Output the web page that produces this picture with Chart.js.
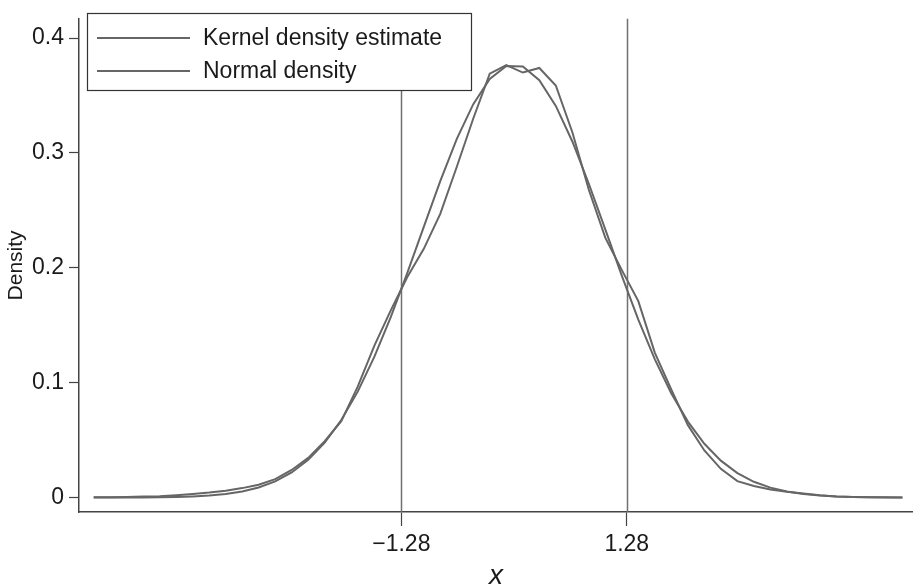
<!DOCTYPE html>
<html>
<head>
<meta charset="utf-8">
<script src="https://cdn.jsdelivr.net/npm/chart.js@4.4.0/dist/chart.umd.min.js"></script>
<style>
  body { margin: 0; background: #fff; }
  #wrap { width: 913px; height: 587px; position: relative; }
</style>
</head>
<body>
<div id="wrap"><canvas id="chart_div"></canvas></div>
<script>
// grid of evaluation points (x) and the two density curves
const xGrid = [
  -4.773, -4.586, -4.399, -4.212, -4.024, -3.836, -3.649, -3.462, -3.274, -3.087,
  -2.900, -2.712, -2.525, -2.337, -2.150, -1.962, -1.775, -1.587, -1.400, -1.212,
  -1.025, -0.838, -0.650, -0.463, -0.276, -0.088, 0.100, 0.287, 0.474, 0.662,
  0.849, 1.037, 1.224, 1.411, 1.599, 1.786, 1.974, 2.161, 2.348, 2.536,
  2.723, 2.911, 3.098, 3.286, 3.473, 3.661, 3.848, 4.036, 4.223, 4.410
];
const kernelDensity = [
  0.0002, 0.0003, 0.0005, 0.0008, 0.0012, 0.0020, 0.0030, 0.0043, 0.0060, 0.0082,
  0.0112, 0.0160, 0.0240, 0.0345, 0.0490, 0.0665, 0.0965, 0.1320, 0.1630, 0.1920,
  0.2165, 0.2470, 0.2880, 0.3300, 0.3690, 0.3765, 0.3700, 0.3740, 0.3587, 0.3180,
  0.2680, 0.2260, 0.1980, 0.1710, 0.1260, 0.0940, 0.0630, 0.0410, 0.0250, 0.0143,
  0.0100, 0.0070, 0.0050, 0.0035, 0.0020, 0.0010, 0.0005, 0.0003, 0.0002, 0.0001
];
const normalDensity = [
  0.0000, 0.0000, 0.0001, 0.0001, 0.0003, 0.0005, 0.0010, 0.0018, 0.0031, 0.0053,
  0.0088, 0.0141, 0.0218, 0.0328, 0.0478, 0.0675, 0.0922, 0.1224, 0.1570, 0.1956,
  0.2357, 0.2755, 0.3122, 0.3425, 0.3644, 0.3757, 0.3753, 0.3634, 0.3410, 0.3100,
  0.2732, 0.2332, 0.1930, 0.1549, 0.1203, 0.0906, 0.0661, 0.0468, 0.0321, 0.0213,
  0.0137, 0.0086, 0.0052, 0.0030, 0.0017, 0.0009, 0.0005, 0.0003, 0.0001, 0.0001
];
const seriesNames = ['Kernel density estimate', 'Normal density'];
const yTicks = [0, 0.1, 0.2, 0.3, 0.4];
const xTicks = [-1.28, 1.28];
const cutoffs = [-1.28, 1.28];

const FONT = '"Liberation Sans", Arial, sans-serif';
const LINE = '#666666';

function points(ys) {
  return xGrid.map((x, i) => ({ x: x, y: ys[i] }));
}

// vertical reference lines at the cutoffs, full height of the plot
const cutoffLines = {
  id: 'cutoffLines',
  beforeDatasetsDraw(chart) {
    const ctx = chart.ctx, area = chart.chartArea, xs = chart.scales.x;
    ctx.save();
    ctx.strokeStyle = '#707070';
    ctx.lineWidth = 1.5;
    cutoffs.forEach(c => {
      const px = Math.round(xs.getPixelForValue(c)) + 0.5;
      ctx.beginPath();
      ctx.moveTo(px, area.top);
      ctx.lineTo(px, area.bottom);
      ctx.stroke();
    });
    ctx.restore();
  }
};

// boxed legend in the top-left corner
const boxLegend = {
  id: 'boxLegend',
  afterDraw(chart) {
    const ctx = chart.ctx;
    ctx.save();
    ctx.fillStyle = '#fff';
    ctx.fillRect(87, 13, 385, 78);
    ctx.strokeStyle = '#333';
    ctx.lineWidth = 1.2;
    ctx.strokeRect(87.5, 13.5, 384, 77);
    ctx.font = '23px ' + FONT;
    ctx.textBaseline = 'middle';
    ctx.fillStyle = '#1a1a1a';
    seriesNames.forEach((name, i) => {
      const y = 38 + i * 33;
      ctx.strokeStyle = LINE;
      ctx.lineWidth = 2;
      ctx.beginPath();
      ctx.moveTo(97, y);
      ctx.lineTo(190, y);
      ctx.stroke();
      ctx.fillText(name, 203, y + 1);
    });
    ctx.restore();
  }
};

const ctx = document.getElementById('chart_div').getContext('2d');
new Chart(ctx, {
  type: 'line',
  data: {
    datasets: [
      { label: seriesNames[0], data: points(kernelDensity), borderColor: LINE, borderWidth: 2, pointRadius: 0, tension: 0, fill: false },
      { label: seriesNames[1], data: points(normalDensity), borderColor: LINE, borderWidth: 2, pointRadius: 0, tension: 0, fill: false }
    ]
  },
  options: {
    responsive: true,
    maintainAspectRatio: false,
    animation: false,
    events: [],
    layout: { padding: 0 },
    plugins: { legend: { display: false }, tooltip: { enabled: false } },
    scales: {
      x: {
        type: 'linear',
        min: -4.94,
        max: 4.53,
        afterFit: s => { s.height = 75; },
        afterBuildTicks: s => { s.ticks = xTicks.map(v => ({ value: v })); },
        ticks: {
          color: '#1a1a1a',
          font: { family: FONT, size: 23 },
          padding: 5,
          maxRotation: 0,
          autoSkip: false,
          callback: v => (v < 0 ? '\u2212' : '') + Math.abs(v).toFixed(2)
        },
        grid: { drawOnChartArea: false, drawTicks: true, tickLength: 14, tickColor: '#444', tickWidth: 1.2 },
        border: { display: true, color: '#444', width: 1.5 },
        title: { display: true, text: 'x', color: '#1a1a1a', font: { family: FONT, size: 28, style: 'italic', lineHeight: 0.8 }, padding: 0 }
      },
      y: {
        min: -0.0126,
        max: 0.4168,
        afterFit: s => { s.width = 79; },
        afterBuildTicks: s => { s.ticks = yTicks.map(v => ({ value: v })); },
        ticks: {
          color: '#1a1a1a',
          font: { family: FONT, size: 23 },
          padding: 5,
          callback: v => String(v)
        },
        grid: { drawOnChartArea: false, drawTicks: true, tickLength: 10, tickColor: '#444', tickWidth: 1.2 },
        border: { display: true, color: '#444', width: 1.5 },
        title: { display: true, text: 'Density', color: '#1a1a1a', font: { family: FONT, size: 21 }, padding: { top: 4, bottom: 0 } }
      }
    }
  },
  plugins: [cutoffLines, boxLegend]
});
</script>
</body>
</html>
